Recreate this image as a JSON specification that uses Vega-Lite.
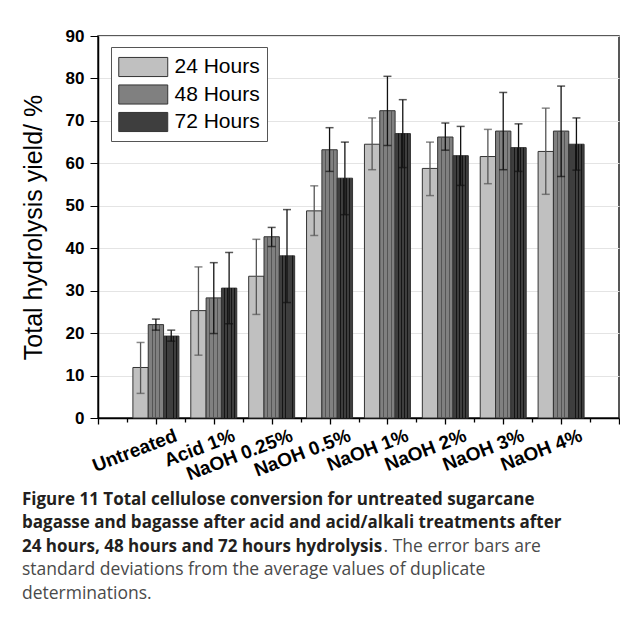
{
  "$schema": "https://vega.github.io/schema/vega-lite/v6.json",
  "width": 521,
  "height": 382,
  "autosize": {"type": "none"},
  "padding": {"left": 98, "top": 36, "right": 1, "bottom": 212},
  "background": "white",
  "config": {
    "view": {"stroke": "#222", "strokeWidth": 1.5, "fill": "white"},
    "font": "Liberation Sans"
  },
  "title": {
    "text": [
      "Figure 11 Total cellulose conversion for untreated sugarcane",
      "bagasse and bagasse after acid and acid/alkali treatments after",
      "24 hours, 48 hours and 72 hours hydrolysis"
    ],
    "subtitle": [
      "standard deviations from the average values of duplicate",
      "determinations."
    ],
    "orient": "bottom",
    "anchor": "start",
    "frame": "group",
    "dx": -76,
    "offset": -63,
    "font": "Open Sans",
    "fontSize": 17,
    "fontWeight": "bold",
    "lineHeight": 23.7,
    "color": "#231f20",
    "subtitleFont": "Open Sans",
    "subtitleFontSize": 17.5,
    "subtitleFontWeight": "normal",
    "subtitleColor": "#4a4a4a",
    "subtitleLineHeight": 23.7,
    "subtitlePadding": 5
  },
  "data": {
    "values": [
      {"treatment": "Untreated", "time": "24 Hours", "yield": 11.9, "low": 5.8, "high": 17.8},
      {"treatment": "Untreated", "time": "48 Hours", "yield": 22.0, "low": 20.7, "high": 23.3},
      {"treatment": "Untreated", "time": "72 Hours", "yield": 19.3, "low": 18.1, "high": 20.7},
      {"treatment": "Acid 1%", "time": "24 Hours", "yield": 25.3, "low": 14.8, "high": 35.6},
      {"treatment": "Acid 1%", "time": "48 Hours", "yield": 28.3, "low": 19.9, "high": 36.6},
      {"treatment": "Acid 1%", "time": "72 Hours", "yield": 30.6, "low": 22.2, "high": 39.0},
      {"treatment": "NaOH 0.25%", "time": "24 Hours", "yield": 33.4, "low": 24.4, "high": 42.1},
      {"treatment": "NaOH 0.25%", "time": "48 Hours", "yield": 42.7, "low": 40.4, "high": 44.9},
      {"treatment": "NaOH 0.25%", "time": "72 Hours", "yield": 38.2, "low": 27.2, "high": 49.1},
      {"treatment": "NaOH 0.5%", "time": "24 Hours", "yield": 48.8, "low": 43.0, "high": 54.7},
      {"treatment": "NaOH 0.5%", "time": "48 Hours", "yield": 63.2, "low": 58.1, "high": 68.4},
      {"treatment": "NaOH 0.5%", "time": "72 Hours", "yield": 56.5, "low": 47.9, "high": 65.0},
      {"treatment": "NaOH 1%", "time": "24 Hours", "yield": 64.5, "low": 58.5, "high": 70.7},
      {"treatment": "NaOH 1%", "time": "48 Hours", "yield": 72.4, "low": 64.2, "high": 80.5},
      {"treatment": "NaOH 1%", "time": "72 Hours", "yield": 67.0, "low": 59.0, "high": 75.0},
      {"treatment": "NaOH 2%", "time": "24 Hours", "yield": 58.8, "low": 52.4, "high": 65.0},
      {"treatment": "NaOH 2%", "time": "48 Hours", "yield": 66.2, "low": 63.1, "high": 69.5},
      {"treatment": "NaOH 2%", "time": "72 Hours", "yield": 61.8, "low": 54.8, "high": 68.7},
      {"treatment": "NaOH 3%", "time": "24 Hours", "yield": 61.6, "low": 55.2, "high": 68.0},
      {"treatment": "NaOH 3%", "time": "48 Hours", "yield": 67.6, "low": 58.5, "high": 76.7},
      {"treatment": "NaOH 3%", "time": "72 Hours", "yield": 63.7, "low": 58.1, "high": 69.3},
      {"treatment": "NaOH 4%", "time": "24 Hours", "yield": 62.8, "low": 52.7, "high": 73.0},
      {"treatment": "NaOH 4%", "time": "48 Hours", "yield": 67.6, "low": 56.9, "high": 78.2},
      {"treatment": "NaOH 4%", "time": "72 Hours", "yield": 64.5, "low": 58.4, "high": 70.7}
    ]
  },
  "layer": [
    {
      "encoding": {
        "x": {
          "field": "treatment",
          "type": "nominal",
          "sort": null,
          "scale": {"paddingInner": 0.2055, "paddingOuter": 0.603},
          "axis": {
            "title": null,
            "ticks": false,
            "domainColor": "#000",
            "domainWidth": 1.5,
            "labelAngle": -21,
            "labelAlign": "right",
            "labelBaseline": "top",
            "labelFontSize": 19,
            "labelFontWeight": "bold",
            "labelColor": "#000",
            "labelOffset": 17,
            "labelPadding": 8
          }
        },
        "xOffset": {"field": "time", "type": "nominal", "scale": {"paddingInner": 0, "paddingOuter": 0}}
      },
      "layer": [
        {
          "mark": {"type": "bar", "stroke": "#333", "strokeWidth": 1},
          "encoding": {
            "y": {
              "field": "yield",
              "type": "quantitative",
              "scale": {"domain": [0, 90], "nice": false},
              "axis": {
                "title": "Total hydrolysis yield/ %",
                "titleFontSize": 25,
                "titleFontWeight": "normal",
                "titleColor": "#000",
                "titlePadding": 19,
                "values": [0, 5, 10, 15, 20, 25, 30, 35, 40, 45, 50, 55, 60, 65, 70, 75, 80, 85, 90],
                "labelExpr": "datum.value % 10 === 0 ? datum.label : ''",
                "labelFontSize": 17,
                "labelFontWeight": "bold",
                "labelColor": "#000",
                "labelPadding": 6,
                "domainColor": "#000",
                "domainWidth": 1.5,
                "tickColor": "#000",
                "tickSize": {"condition": {"test": "datum.value % 10 === 0", "value": 8}, "value": 5},
                "grid": true,
                "gridColor": "#e4e4e4",
                "gridWidth": 1
              }
            },
            "fill": {
              "field": "time",
              "type": "nominal",
              "scale": {"domain": ["24 Hours", "48 Hours", "72 Hours"], "range": ["#c0c0c0", "#808080", "#3e3e3e"]},
              "legend": {
                "title": null,
                "orient": "none",
                "legendX": 13,
                "legendY": 11,
                "direction": "vertical",
                "fillColor": "white",
                "strokeColor": "#555",
                "padding": 7,
                "symbolType": "M-1,-0.78L3,-0.78L3,0.78L-1,0.78Z",
                "symbolSize": 600,
                "symbolStrokeColor": "#333",
                "symbolStrokeWidth": 1,
                "symbolOpacity": 1,
                "labelFontSize": 21,
                "labelColor": "#000",
                "labelOffset": 30.5,
                "rowPadding": 2.5
              }
            }
          }
        },
        {
          "mark": {"type": "bar", "strokeWidth": 0},
          "encoding": {
            "y": {"field": "yield", "type": "quantitative"},
            "fill": {
              "condition": [
                {"test": "datum.time === '48 Hours'", "value": {"gradient": "linear", "x1": 0, "y1": 0, "x2": 1, "y2": 0, "stops": [
                  {"offset": 0, "color": "rgba(0,0,0,0)"},
                  {"offset": 0.22, "color": "rgba(0,0,0,0)"},
                  {"offset": 0.22, "color": "#555"},
                  {"offset": 0.28, "color": "#555"},
                  {"offset": 0.28, "color": "rgba(0,0,0,0)"},
                  {"offset": 0.47, "color": "rgba(0,0,0,0)"},
                  {"offset": 0.47, "color": "#555"},
                  {"offset": 0.53, "color": "#555"},
                  {"offset": 0.53, "color": "rgba(0,0,0,0)"},
                  {"offset": 0.72, "color": "rgba(0,0,0,0)"},
                  {"offset": 0.72, "color": "#555"},
                  {"offset": 0.78, "color": "#555"},
                  {"offset": 0.78, "color": "rgba(0,0,0,0)"},
                  {"offset": 1, "color": "rgba(0,0,0,0)"}
                ]}},
                {"test": "datum.time === '72 Hours'", "value": {"gradient": "linear", "x1": 0, "y1": 0, "x2": 1, "y2": 0, "stops": [
                  {"offset": 0, "color": "rgba(0,0,0,0)"},
                  {"offset": 0.18, "color": "rgba(0,0,0,0)"},
                  {"offset": 0.18, "color": "#151515"},
                  {"offset": 0.24, "color": "#151515"},
                  {"offset": 0.24, "color": "rgba(0,0,0,0)"},
                  {"offset": 0.39, "color": "rgba(0,0,0,0)"},
                  {"offset": 0.39, "color": "#151515"},
                  {"offset": 0.45, "color": "#151515"},
                  {"offset": 0.45, "color": "rgba(0,0,0,0)"},
                  {"offset": 0.6, "color": "rgba(0,0,0,0)"},
                  {"offset": 0.6, "color": "#151515"},
                  {"offset": 0.66, "color": "#151515"},
                  {"offset": 0.66, "color": "rgba(0,0,0,0)"},
                  {"offset": 0.8, "color": "rgba(0,0,0,0)"},
                  {"offset": 0.8, "color": "#151515"},
                  {"offset": 0.86, "color": "#151515"},
                  {"offset": 0.86, "color": "rgba(0,0,0,0)"},
                  {"offset": 1, "color": "rgba(0,0,0,0)"}
                ]}}
              ],
              "value": "transparent"
            }
          }
        },
        {
          "mark": {"type": "rule", "strokeWidth": 1.3},
          "encoding": {
            "y": {"field": "low", "type": "quantitative"},
            "y2": {"field": "high"},
            "color": {"condition": {"test": "datum.time === '24 Hours'", "value": "#555"}, "value": "#111"}
          }
        },
        {
          "mark": {"type": "tick", "thickness": 1.5, "size": 8, "orient": "horizontal"},
          "encoding": {
            "y": {"field": "low", "type": "quantitative"},
            "color": {"condition": {"test": "datum.time === '24 Hours'", "value": "#555"}, "value": "#111"}
          }
        },
        {
          "mark": {"type": "tick", "thickness": 1.5, "size": 8, "orient": "horizontal"},
          "encoding": {
            "y": {"field": "high", "type": "quantitative"},
            "color": {"condition": {"test": "datum.time === '24 Hours'", "value": "#555"}, "value": "#111"}
          }
        }
      ]
    },
    {
      "mark": {"type": "point", "opacity": 0},
      "encoding": {
        "x": {
          "datum": 0,
          "type": "quantitative",
          "scale": {"domain": [0, 9], "nice": false, "zero": false},
          "axis": {
            "orient": "bottom",
            "title": ". The error bars are",
            "titleFont": "Open Sans",
            "titleFontSize": 17.5,
            "titleFontWeight": "normal",
            "titleColor": "#4a4a4a",
            "titleAlign": "left",
            "titleBaseline": "alphabetic",
            "titleX": 285,
            "titleY": 133,
            "labels": false,
            "domain": false,
            "grid": false,
            "values": [0, 0.5, 1, 1.5, 2, 2.5, 3, 3.5, 4, 4.5, 5, 5.5, 6, 6.5, 7, 7.5, 8, 8.5, 9],
            "tickColor": "#000",
            "tickWidth": 1.3,
            "tickSize": {"condition": {"test": "datum.value % 1 === 0", "value": 6}, "value": 4}
          }
        }
      }
    }
  ],
  "resolve": {"scale": {"x": "independent"}}
}
